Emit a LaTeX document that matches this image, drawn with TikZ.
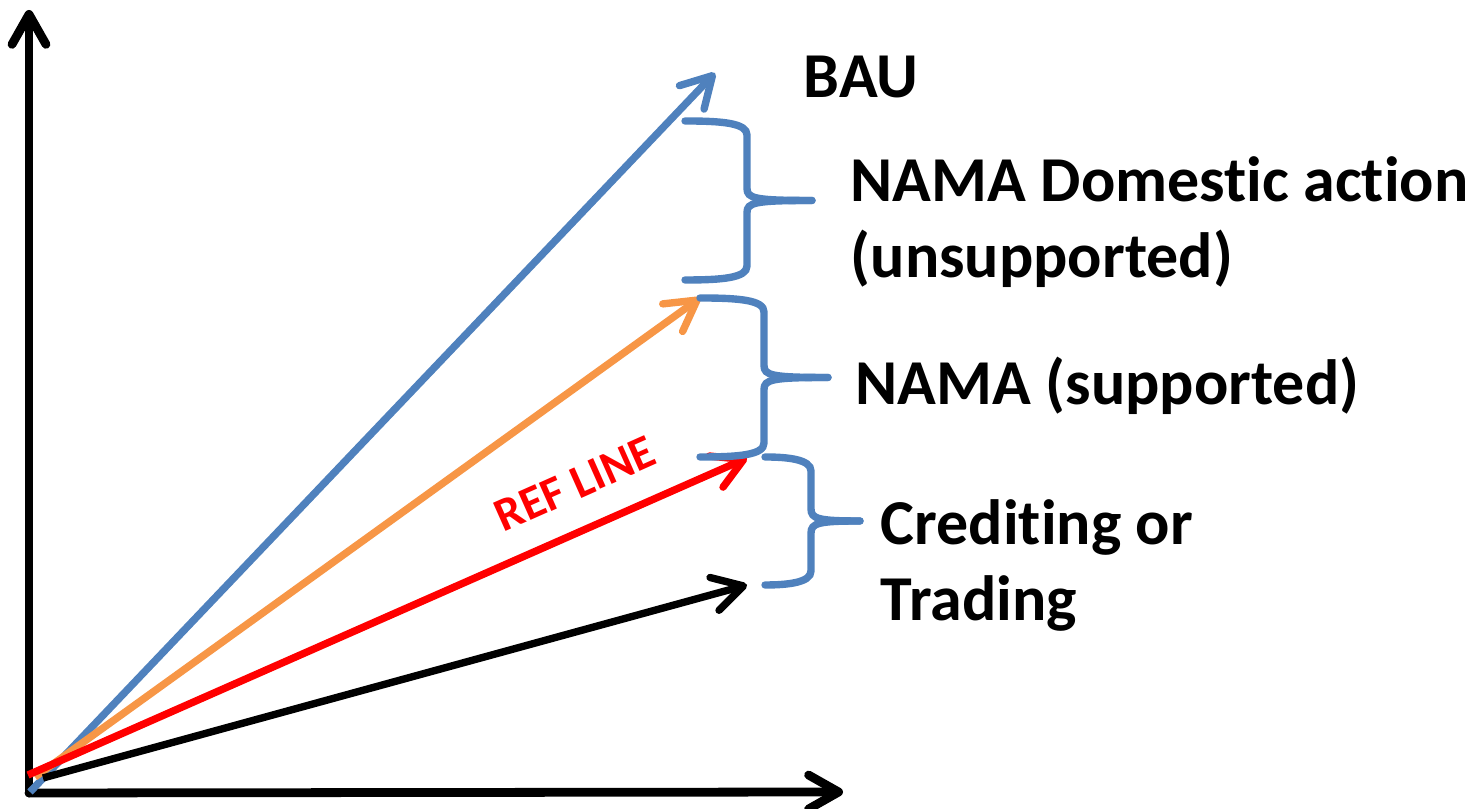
\documentclass[tikz,border=0pt]{standalone}
\usepackage{fontspec}
\setmainfont{Carlito}[Ligatures=NoCommon]
\usetikzlibrary{calc,positioning,arrows.meta}
\definecolor{baublue}{RGB}{79,129,189}
\definecolor{namaorange}{RGB}{247,150,70}
\definecolor{refred}{RGB}{255,0,0}
% curly brace: left x, top y, bottom y, stem x, tip x
\newcommand{\curlybrace}[5]{%
    \draw[bracestyle] (#1,#2) .. controls ($(#4,#2)+(-0.25,0)$) and ($(#4,#2)+(0,-0.02)$)
        .. ($(#4,#2)+(0,-0.14)$) -- ($(#4,{(#2+#3)/2})+(0,0.12)$)
        .. controls ($(#4,{(#2+#3)/2})+(0,0.02)$) and ($(#4,{(#2+#3)/2})+(0.08,0)$)
        .. (#5,{(#2+#3)/2});
    \draw[bracestyle] (#5,{(#2+#3)/2}) .. controls ($(#4,{(#2+#3)/2})+(0.08,0)$)
        and ($(#4,{(#2+#3)/2})+(0,-0.02)$) .. ($(#4,{(#2+#3)/2})+(0,-0.12)$)
        -- ($(#4,#3)+(0,0.14)$) .. controls ($(#4,#3)+(0,0.02)$) and ($(#4,#3)+(-0.25,0)$)
        .. (#1,#3);
}

\begin{document}
\begin{tikzpicture}[
    axisline/.style={line width=2.5pt,line cap=round,
        -{Straight Barb[length=3mm,width=3.4mm,round]}},
    trendline/.style={line width=2.1pt,
        -{Straight Barb[length=3mm,width=3.4mm,round]}},
    bracestyle/.style={baublue,line width=2.1pt,line cap=round},
    label/.style={font=\fontsize{18.2}{21.5}\selectfont\bfseries,inner sep=0pt,
        align=left,anchor=north west}]
    \useasboundingbox (0,0) rectangle (14.75,8.09);

    % axes
    \coordinate (origin) at (0.29,0.16);
    \coordinate (ytip) at (0.29,7.99);
    \coordinate (xtip) at (8.43,0.17);
    \draw[axisline] (origin) -- (ytip);
    \draw[axisline] (origin) -- (xtip);

    % pathways
    \coordinate (baustart) at (0.30,0.17);
    \coordinate (bautip) at (7.15,7.36);
    \coordinate (namastart) at (0.35,0.32);
    \coordinate (namatip) at (7.00,5.11);
    \coordinate (refstart) at (0.28,0.34);
    \coordinate (reftip) at (7.47,3.51);
    \coordinate (tradestart) at (0.43,0.31);
    \coordinate (tradetip) at (7.47,2.24);
    \draw[trendline,baublue] (baustart) -- (bautip);
    \draw[trendline,namaorange] (namastart) -- (namatip);
    \draw[trendline,black] (tradestart) -- (tradetip);
    \draw[trendline,refred] (refstart) -- (reftip);

    \node[refred,font=\fontsize{13.5}{16}\selectfont\bfseries,rotate=24]
        (refline) at (5.75,3.25) {REF LINE};

    % braces
    \curlybrace{6.85}{6.88}{5.29}{7.47}{8.12}
    \curlybrace{7.00}{5.11}{3.52}{7.64}{8.28}
    \curlybrace{7.65}{3.52}{2.24}{8.11}{8.60}

    \node[label] (bau) at (8.03,7.54) {BAU};
    \node[label] (domestic) at (8.50,6.53) {NAMA Domestic action\\(unsupported)};
    \node[label] (supported) at (8.55,4.53) {NAMA (supported)};
    \node[label] (crediting) at (8.80,3.10) {Crediting or\\Trading};
\end{tikzpicture}
\end{document}
